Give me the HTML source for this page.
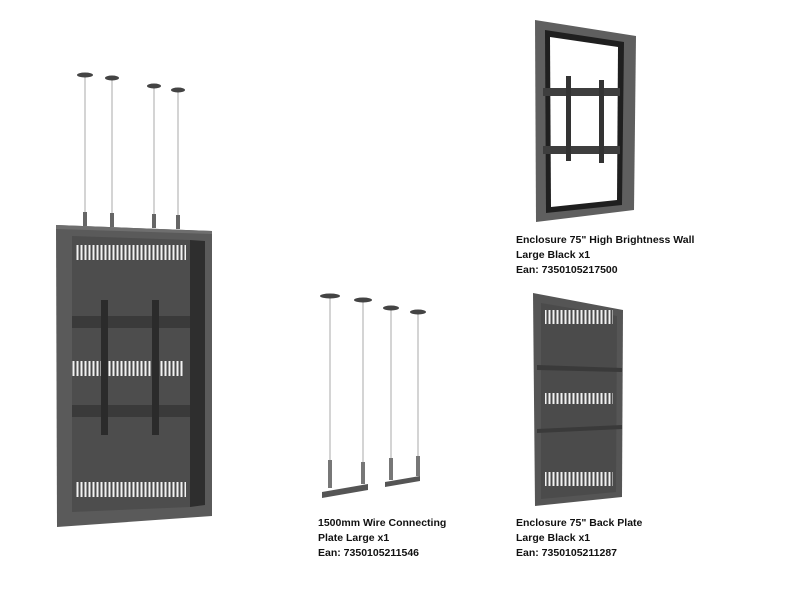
<!DOCTYPE html>
<html><head><meta charset="utf-8"><style>
html,body{margin:0;padding:0;background:#fff;width:800px;height:600px;overflow:hidden}
.t{position:absolute;font-family:"Liberation Sans",sans-serif;font-weight:bold;font-size:10.5px;line-height:15px;color:#111}
</style></head><body>
<svg width="800" height="600" style="position:absolute;left:0;top:0">
<defs>
<pattern id="v" width="4" height="20" patternUnits="userSpaceOnUse"><rect width="4" height="20" fill="#4a4a4a"/><rect x="0.5" width="2" height="20" fill="#f2f2f2"/></pattern>
</defs>
<g stroke="#aaa" stroke-width="1">
<line x1="85" y1="76" x2="85" y2="226"/><line x1="112" y1="79" x2="112" y2="227"/><line x1="154" y1="86" x2="154" y2="228"/><line x1="178" y1="90" x2="178" y2="229"/>
</g>
<g fill="#444"><ellipse cx="85" cy="75" rx="8" ry="2.5"/><ellipse cx="112" cy="78" rx="7" ry="2.5"/><ellipse cx="154" cy="86" rx="7" ry="2.5"/><ellipse cx="178" cy="90" rx="7" ry="2.5"/></g>
<g fill="#666"><rect x="83" y="212" width="4" height="14"/><rect x="110" y="213" width="4" height="14"/><rect x="152" y="214" width="4" height="14"/><rect x="176" y="215" width="4" height="14"/></g>
<polygon points="56,225 212,231 212,516 57,527" fill="#5a5a5a"/>
<polygon points="72,236 190,240 190,507 72,512" fill="#4d4d4d"/>
<polygon points="190,240 205,241 205,505 190,507" fill="#2e2e2e"/>
<polygon points="56,225 212,231 212,234 56,229" fill="#6e6e6e"/>
<rect x="76" y="245" width="110" height="15" fill="url(#v)"/>
<rect x="72" y="361" width="112" height="15" fill="url(#v)"/>
<rect x="76" y="482" width="110" height="15" fill="url(#v)"/>
<rect x="72" y="316" width="118" height="12" fill="#3a3a3a"/>
<rect x="72" y="405" width="118" height="12" fill="#3a3a3a"/>
<rect x="101" y="300" width="7" height="135" fill="#2b2b2b"/>
<rect x="152" y="300" width="7" height="135" fill="#2b2b2b"/>
<polygon points="535,20 636,36 634,210 536,222" fill="#5f5f5f"/>
<polygon points="545,30 624,42 622,205 546,213" fill="#1f1f1f"/>
<polygon points="550,37 618,47 617,200 551,207" fill="#fff"/>
<rect x="543" y="88" width="77" height="8" fill="#3e3e3e"/>
<rect x="543" y="146" width="77" height="8" fill="#3e3e3e"/>
<rect x="566" y="76" width="5" height="85" fill="#333"/>
<rect x="599" y="80" width="5" height="83" fill="#333"/>
<g stroke="#aaa" stroke-width="1">
<line x1="330" y1="297" x2="330" y2="478"/><line x1="363" y1="301" x2="363" y2="478"/><line x1="391" y1="309" x2="391" y2="465"/><line x1="418" y1="313" x2="418" y2="465"/>
</g>
<g fill="#444"><ellipse cx="330" cy="296" rx="10" ry="2.5"/><ellipse cx="363" cy="300" rx="9" ry="2.5"/><ellipse cx="391" cy="308" rx="8" ry="2.5"/><ellipse cx="418" cy="312" rx="8" ry="2.5"/></g>
<polygon points="322,492 368,484 368,490 322,498" fill="#555"/>
<polygon points="385,482 420,476 420,481 385,487" fill="#555"/>
<g fill="#777"><rect x="328" y="460" width="4" height="28"/><rect x="361" y="462" width="4" height="22"/><rect x="389" y="458" width="4" height="22"/><rect x="416" y="456" width="4" height="20"/></g>
<polygon points="533,293 623,310 622,497 535,506" fill="#555"/>
<polygon points="541,303 617,316 616,492 541,499" fill="#4b4b4b"/>
<rect x="545" y="310" width="68" height="14" fill="url(#v)"/>
<rect x="545" y="393" width="68" height="11" fill="url(#v)"/>
<rect x="545" y="472" width="68" height="14" fill="url(#v)"/>
<polygon points="537,365 622,368 622,372 537,370" fill="#3a3a3a"/>
<polygon points="537,429 622,425 622,429 537,433" fill="#3a3a3a"/>
</svg>
<div class="t" style="left:516px;top:233px">Enclosure 75" High Brightness Wall<br>Large Black x1<br>Ean: 7350105217500</div>
<div class="t" style="left:318px;top:516px">1500mm Wire Connecting<br>Plate Large x1<br>Ean: 7350105211546</div>
<div class="t" style="left:516px;top:516px">Enclosure 75" Back Plate<br>Large Black x1<br>Ean: 7350105211287</div>
</body></html>
